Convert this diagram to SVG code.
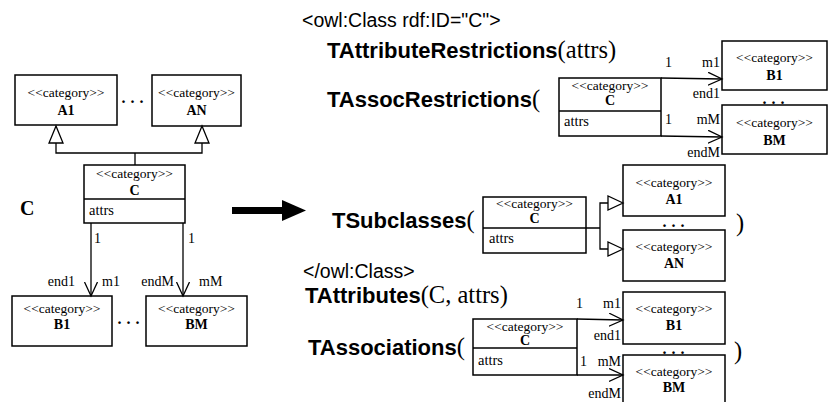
<svg xmlns="http://www.w3.org/2000/svg" width="833" height="402" viewBox="0 0 833 402">
  <defs>
    <style>
      .box { fill: #fff; stroke: #000; stroke-width: 1.5; }
      .sep { stroke: #000; stroke-width: 1.3; }
      .line { fill: none; stroke: #000; stroke-width: 1.3; }
      .tri { fill: #fff; stroke: #000; stroke-width: 1.3; }
      .ster { font-family: "Liberation Serif", "Times New Roman", serif; font-size: 13.5px; text-anchor: middle; fill: #000; }
      .name { font-family: "Liberation Serif", "Times New Roman", serif; font-size: 14px; font-weight: bold; text-anchor: middle; fill: #000; }
      .attr { font-family: "Liberation Serif", "Times New Roman", serif; font-size: 14.5px; fill: #000; }
      .lbl { font-family: "Liberation Serif", "Times New Roman", serif; font-size: 14px; fill: #000; }
      .end { text-anchor: end; }
      .dots { font-family: "Liberation Serif", "Times New Roman", serif; font-size: 16px; font-weight: bold; text-anchor: middle; letter-spacing: 5px; fill: #000; }
      .tag { font-family: "Liberation Sans", Arial, sans-serif; font-size: 19.5px; fill: #000; }
      .fn { font-family: "Liberation Sans", Arial, sans-serif; font-size: 22px; font-weight: bold; fill: #000; }
      .arg { font-family: "Liberation Serif", "Times New Roman", serif; font-size: 24.5px; font-weight: normal; fill: #000; }
    </style>
    <marker id="open" markerUnits="userSpaceOnUse" markerWidth="16" markerHeight="16" refX="14" refY="7" orient="auto">
      <path d="M0,0.5 L14,7 L0,13.5" fill="none" stroke="#000" stroke-width="1.3"/>
    </marker>
  </defs>

  <!-- ===== UML model (left) ===== -->
  <g id="left-A1">
    <rect class="box" x="15" y="75" width="102" height="50"/>
    <text class="ster" x="66" y="97">&lt;&lt;category&gt;&gt;</text>
    <text class="name" x="66" y="115">A1</text>
  </g>
  <g id="left-AN">
    <rect class="box" x="152" y="75" width="89" height="51"/>
    <text class="ster" x="196.5" y="97">&lt;&lt;category&gt;&gt;</text>
    <text class="name" x="196.5" y="115">AN</text>
  </g>
  <text class="dots" x="135" y="103">...</text>

  <g id="left-C">
    <rect class="box" x="84" y="165" width="101" height="58"/>
    <line class="sep" x1="84" y1="199" x2="185" y2="199"/>
    <text class="ster" x="134.5" y="178">&lt;&lt;category&gt;&gt;</text>
    <text class="name" x="134.5" y="195">C</text>
    <text class="attr" x="89" y="215">attrs</text>
  </g>
  <text x="20" y="215" font-family="Liberation Serif, Times New Roman, serif" font-size="20" font-weight="bold">C</text>

  <g id="left-B1">
    <rect class="box" x="12" y="296" width="100" height="50"/>
    <text class="ster" x="62" y="313">&lt;&lt;category&gt;&gt;</text>
    <text class="name" x="62" y="329">B1</text>
  </g>
  <g id="left-BM">
    <rect class="box" x="146" y="296" width="101" height="50"/>
    <text class="ster" x="196.5" y="313">&lt;&lt;category&gt;&gt;</text>
    <text class="name" x="196.5" y="329">BM</text>
  </g>
  <text class="dots" x="131" y="324">...</text>

  <!-- ===== transformation arrow ===== -->
  <g id="transform-arrow">
    <rect x="232" y="207" width="51" height="7" fill="#000"/>
    <polygon points="282,200 306,210.5 282,221" fill="#000"/>
  </g>

  <!-- ===== OWL output (right) ===== -->
  <text class="tag" x="302" y="27">&lt;owl:Class rdf:ID="C"&gt;</text>
  <text class="fn" x="327" y="58">TAttributeRestrictions<tspan class="arg">(attrs)</tspan></text>
  <text class="fn" x="327" y="107">TAssocRestrictions<tspan class="arg">(</tspan></text>

  <g id="ar-C">
    <rect class="box" x="559" y="78" width="102" height="58"/>
    <line class="sep" x1="559" y1="111" x2="661" y2="111"/>
    <text class="ster" x="610" y="90">&lt;&lt;category&gt;&gt;</text>
    <text class="name" x="610" y="105">C</text>
    <text class="attr" x="564" y="126">attrs</text>
  </g>
  <g id="ar-B1">
    <rect class="box" x="722" y="41" width="105" height="49"/>
    <text class="ster" x="774.5" y="62">&lt;&lt;category&gt;&gt;</text>
    <text class="name" x="774.5" y="80">B1</text>
  </g>
  <g id="ar-BM">
    <rect class="box" x="722" y="105" width="105" height="49"/>
    <text class="ster" x="774.5" y="127">&lt;&lt;category&gt;&gt;</text>
    <text class="name" x="774.5" y="145">BM</text>
  </g>
  <text class="dots" x="776" y="104">...</text>

  <text class="fn" x="332" y="228">TSubclasses<tspan class="arg">(</tspan></text>
  <g id="sc-C">
    <rect class="box" x="483" y="197" width="103" height="56"/>
    <line class="sep" x1="483" y1="228" x2="586" y2="228"/>
    <text class="ster" x="534.5" y="208">&lt;&lt;category&gt;&gt;</text>
    <text class="name" x="534.5" y="223">C</text>
    <text class="attr" x="489" y="243">attrs</text>
  </g>
  <g id="sc-A1">
    <rect class="box" x="623" y="165" width="102" height="51"/>
    <text class="ster" x="674" y="187">&lt;&lt;category&gt;&gt;</text>
    <text class="name" x="674" y="204">A1</text>
  </g>
  <g id="sc-AN">
    <rect class="box" x="623" y="230" width="102" height="51"/>
    <text class="ster" x="674" y="251">&lt;&lt;category&gt;&gt;</text>
    <text class="name" x="674" y="268">AN</text>
  </g>
  <text class="dots" x="676" y="227">...</text>
  <text class="arg" x="736" y="231">)</text>

  <text class="tag" x="303" y="278">&lt;/owl:Class&gt;</text>
  <text class="fn" x="305" y="303">TAttributes<tspan class="arg">(C, attrs)</tspan></text>
  <text class="fn" x="308" y="355">TAssociations<tspan class="arg">(</tspan></text>

  <g id="as-C">
    <rect class="box" x="473" y="319" width="104" height="56"/>
    <line class="sep" x1="473" y1="348" x2="577" y2="348"/>
    <text class="ster" x="525" y="331">&lt;&lt;category&gt;&gt;</text>
    <text class="name" x="525" y="345">C</text>
    <text class="attr" x="478" y="365">attrs</text>
  </g>
  <g id="as-B1">
    <rect class="box" x="623" y="292" width="102" height="52"/>
    <text class="ster" x="674" y="313">&lt;&lt;category&gt;&gt;</text>
    <text class="name" x="674" y="330">B1</text>
  </g>
  <g id="as-BM">
    <rect class="box" x="623" y="355" width="102" height="52"/>
    <text class="ster" x="674" y="376">&lt;&lt;category&gt;&gt;</text>
    <text class="name" x="674" y="392">BM</text>
  </g>
  <text class="dots" x="676" y="354">...</text>
  <text class="arg" x="734" y="359">)</text>

  <!-- ===== connectors ===== -->
  <g id="connectors">
    <!-- left: generalization C -> A1, AN -->
    <path class="line" d="M56,143 V153 H202 V143 M135,153 V165"/>
    <polygon class="tri" points="56,126 49,143 63,143"/>
    <polygon class="tri" points="202,126 195,143 209,143"/>
    <!-- left: associations C -> B1, BM -->
    <line class="line" x1="91" y1="223" x2="91" y2="296" marker-end="url(#open)"/>
    <line class="line" x1="183" y1="223" x2="183" y2="296" marker-end="url(#open)"/>
    <text class="lbl" x="94" y="243">1</text>
    <text class="lbl" x="188" y="243">1</text>
    <text class="lbl end" x="75" y="286">end1</text>
    <text class="lbl" x="102" y="286">m1</text>
    <text class="lbl end" x="174" y="286">endM</text>
    <text class="lbl" x="199" y="286">mM</text>

    <!-- TAssocRestrictions -->
    <line class="line" x1="661" y1="78" x2="722" y2="79" marker-end="url(#open)"/>
    <line class="line" x1="661" y1="136" x2="722" y2="137" marker-end="url(#open)"/>
    <text class="lbl" x="665" y="67">1</text>
    <text class="lbl end" x="720" y="67">m1</text>
    <text class="lbl end" x="720" y="98">end1</text>
    <text class="lbl" x="665" y="124">1</text>
    <text class="lbl end" x="720" y="124">mM</text>
    <text class="lbl end" x="720" y="157">endM</text>

    <!-- TSubclasses -->
    <path class="line" d="M586,228 H600 M608,203 H600 V249 H608"/>
    <polygon class="tri" points="623,203 608,196 608,210"/>
    <polygon class="tri" points="623,249 608,242 608,256"/>

    <!-- TAssociations -->
    <line class="line" x1="577" y1="319" x2="623" y2="320" marker-end="url(#open)"/>
    <line class="line" x1="577" y1="375" x2="623" y2="375" marker-end="url(#open)"/>
    <text class="lbl" x="576" y="308">1</text>
    <text class="lbl end" x="621" y="308">m1</text>
    <text class="lbl end" x="621" y="340">end1</text>
    <text class="lbl" x="580" y="366">1</text>
    <text class="lbl end" x="621" y="366">mM</text>
    <text class="lbl end" x="621" y="398">endM</text>
  </g>
</svg>
